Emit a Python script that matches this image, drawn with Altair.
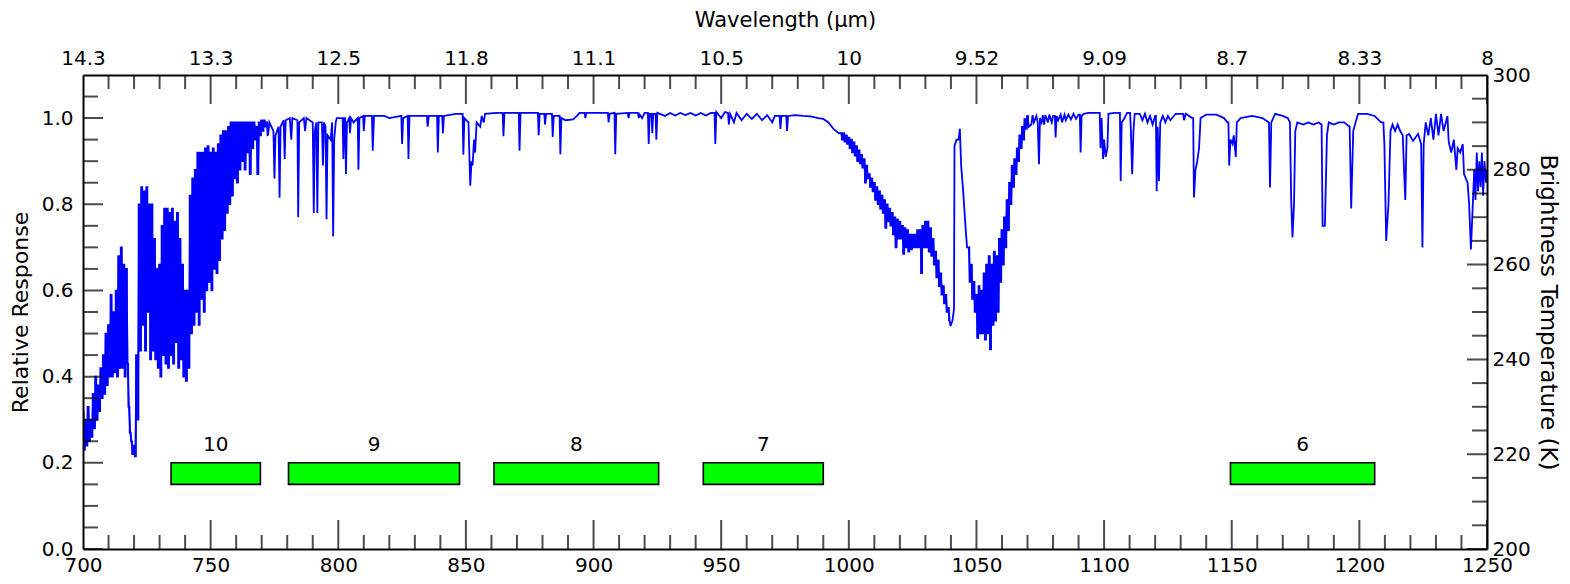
import altair as alt
import pandas as pd

FONT = "DejaVu Sans"

# ---------------- spectrum readings (wavenumber cm-1 -> relative response) ----------------
# dense band 700-772: top value read at nu, bottom value read at nu+0.5
dense1_nu = list(range(700, 773))
dense1_top = [.32, .30, .33, .30, .36, .40, .38, .42, .45, .50,
              .52, .59, .55, .60, .68, .70, .66, .65, .33, .25,
              .24, .45, .80, .84, .83, .84, .80, .80, .72, .65,
              .66, .75, .79, .79, .78, .79, .76, .78, .72, .66,
              .60, .60, .82, .86, .88, .92, .92, .92, .93, .935,
              .92, .93, .92, .94, .96, .97, .97, .98, .99, .99,
              .99, .99, .99, .99, .99, .99, .99, .99, .98, .99,
              .995, .995, .99]
dense1_bot = [.23, .24, .25, .26, .28, .30, .32, .35, .36, .38,
              .40, .40, .41, .40, .42, .42, .40, .43, .27, .22,
              .215, .30, .46, .52, .46, .55, .44, .46, .44, .42,
              .40, .45, .43, .42, .45, .43, .48, .42, .44, .40,
              .39, .42, .50, .52, .55, .52, .58, .55, .60, .62,
              .60, .65, .64, .67, .72, .74, .78, .80, .82, .86,
              .85, .88, .90, .88, .92, .87, .93, .95, .87, .96,
              .97, .98, .96]

# sparse part 773-996 with individual absorption lines
sparse1_nu = [773, 774.6, 775, 775.4, 776.6, 777, 777.4, 778.6, 779, 779.4,
              781, 781.6, 782, 784, 784.3, 784.7, 786.5, 787, 787.5, 790,
              790.4, 790.8, 791.4, 791.8, 792.2, 793.6, 794, 794.4, 795, 795.4,
              795.8, 797, 797.6, 798, 798.4, 799, 799.4,
              800.5, 802, 802.4, 803, 803.4, 804.6, 805, 806, 807.9, 808.3,
              810, 810.4, 813.5, 814, 818, 820, 825, 825.4, 827.5, 827.9,
              832, 835, 835.5, 839, 839.4, 841, 841.4, 846, 849, 849.4,
              851, 851.7, 852.2, 852.6, 853.2, 853.6, 854.2, 855.6, 856.2, 857,
              857.5, 862, 864.7, 865.1, 871, 871.4, 876, 878.5, 878.9, 881,
              881.4, 884, 884.4, 887, 887.4, 889, 892, 893.5, 894.5,
              896.8, 897.2, 904, 905.9, 906.3, 908.5, 908.9, 913.7, 914.1, 917.7,
              918.1, 919, 920, 921.6, 922, 923, 923.4, 924.6, 925, 928,
              930, 932, 934, 936, 938, 940, 942, 944, 946, 947.7,
              948.1, 950, 951.5, 953, 953.5, 955, 956, 958, 960, 962,
              964, 966, 968, 970, 971, 973.2, 973.6, 975.8, 976.2, 979,
              982, 985, 988, 990, 992, 994, 996]
sparse1_r = [.99, .97, .86, .96, .98, .815, .98, .995, .905, .995,
             1.0, .95, 1.0, .995, .77, .99, 1.0, .97, 1.0, .99,
             .78, .97, .99, .78, .99, .99, .89, .99, .98, .765,
             .96, .95, .99, .725, .95, .99, 1.0,
             1.0, .905, 1.0, .87, .99, .965, 1.0, .99, .88, 1.0,
             .97, 1.005, .924, 1.005, 1.005, 1.0, .94, 1.0, .905, 1.005,
             1.005, .98, 1.005, .92, 1.005, .965, 1.005, 1.01, .915, 1.0,
             .99, .843, .90, .89, .95, .92, .99, .98, 1.005, .99,
             1.01, 1.012, .958, 1.012, .924, 1.012, 1.012, .96, 1.01, .985,
             1.01, .956, 1.005, .916, 1.0, .995, .997, 1.005, 1.012,
             1.0, 1.012, 1.012, .99, 1.01, .916, 1.01, 1.0, 1.012, 1.0,
             1.008, 1.0, 1.012, .94, 1.01, .965, 1.01, .95, 1.012, 1.005,
             1.012, 1.006, 1.012, 1.007, 1.012, 1.006, 1.012, 1.006, 1.012, .94,
             1.014, 1.0, 1.014, .985, 1.01, .99, 1.012, .995, 1.01, .998,
             1.01, .995, 1.007, .99, 1.005, .975, 1.005, .97, 1.005, 1.007,
             1.005, 1.004, 1.0, .998, .99, .975, .965]

# continuum readings right beside the narrow lines
anchor_nu = [801.7, 802.7, 804.3, 807.6, 809.7, 813.2, 824.7, 827.2, 834.7, 838.7,
             840.7, 848.7, 864.4, 870.7, 878.2, 880.7, 883.7, 886.7, 896.5, 905.6,
             908.2, 913.4, 917.4, 921.3, 922.7, 924.3, 947.4, 952.7, 972.9, 975.5,
             1080.7, 1090.5, 1098.3, 1106.2, 1110.2, 1120.3, 1131.0, 1134.9, 1148.7, 1209.4]
anchor_r = [1.0, 1.0, 1.0, 1.0, 1.005, 1.005, 1.005, 1.005, 1.005, 1.005,
            1.005, 1.01, 1.012, 1.012, 1.012, 1.01, 1.01, 1.005, 1.012, 1.012,
            1.012, 1.012, 1.012, 1.012, 1.01, 1.01, 1.012, 1.012, 1.005, 1.005,
            1.005, 1.008, 1.012, 1.012, 1.012, 1.005, 1.01, 1.0, .99, .99]

# dense decline 997-1039 (top at nu, bottom at nu+0.5)
dense2_nu = list(range(997, 1040))
dense2_top = [.965, .965, .96, .955, .95, .944, .935, .925, .915, .905,
              .89, .87, .86, .85, .84, .83, .82, .81, .80, .79,
              .78, .77, .765, .76, .75, .745, .74, .73, .73, .73,
              .74, .74, .75, .76, .76, .745, .72, .69, .67, .64,
              .61, .59, .56]
dense2_bot = [.95, .945, .94, .93, .92, .913, .90, .895, .885, .85,
              .86, .84, .83, .81, .80, .79, .78, .745, .76, .75,
              .73, .70, .72, .72, .685, .70, .69, .695, .70, .70,
              .70, .64, .70, .70, .69, .68, .66, .63, .61, .59,
              .57, .55, .53]

# narrow spike near 1041
spike_nu = [1039.8, 1040.6, 1041.2, 1041.4, 1042.2, 1043, 1043.5, 1044, 1044.8, 1045.7, 1046.3]
spike_r = [.517, .53, .556, .936, .95, .95, .975, .89, .83, .75, .70]

# dense trough 1047-1070 (top at nu, bottom at nu+0.5)
dense3_nu = list(range(1047, 1071))
dense3_top = [.70, .66, .62, .59, .61, .60, .64, .66, .68, .66,
              .69, .68, .72, .74, .77, .81, .85, .89, .905, .93,
              .96, .98, .998, 1.005]
dense3_bot = [.62, .58, .55, .49, .50, .50, .486, .50, .463, .52,
              .53, .55, .62, .66, .70, .74, .80, .84, .87, .90,
              .93, .95, .975, .98]

# sparse part 1071-1250
sparse2_nu = [1071.5, 1072, 1072.5, 1073.5, 1074, 1074.5, 1074.9, 1075.5, 1076, 1076.5,
              1077, 1078, 1078.5, 1079.5, 1080, 1081, 1081.4, 1082, 1083, 1083.5,
              1084.5, 1085, 1086, 1087, 1088, 1089, 1090, 1090.8, 1091.2, 1092,
              1094, 1098.6, 1099, 1099.6, 1100, 1100.6, 1101.3, 1101.7, 1104, 1106.5,
              1106.9, 1108, 1109, 1110.5, 1111, 1111.5, 1112, 1114, 1115, 1116,
              1117, 1118, 1119, 1120, 1120.6, 1121, 1121.5, 1122, 1123, 1124,
              1125, 1126, 1128, 1131.3, 1132, 1134.5, 1135.2, 1135.8, 1136.5, 1137.2,
              1137.8, 1140, 1144, 1147, 1148.3, 1149, 1149.5, 1150.3, 1150.8, 1151.6,
              1152, 1153.5, 1158, 1162, 1164.6, 1165, 1165.5, 1167, 1170, 1172,
              1172.8, 1173.3, 1173.8, 1174.4, 1174.9, 1175.7, 1178, 1180, 1182, 1184,
              1185.2, 1185.6, 1186.5, 1187.3, 1188, 1190, 1192, 1194, 1196.2, 1196.8,
              1197.6, 1198.5, 1199.5, 1203, 1206, 1208.5, 1209.8, 1210.5, 1211.4, 1212.2,
              1213, 1214, 1215, 1216, 1217, 1217.5, 1218, 1218.5, 1219.5, 1221,
              1223, 1224.2, 1224.7, 1225.2, 1226, 1227, 1228, 1229, 1230, 1231,
              1232, 1233, 1234.5, 1235, 1236, 1237, 1238, 1238.5, 1239.5, 1240.5,
              1241, 1242.4, 1243, 1243.7, 1244.3, 1245, 1245.5, 1246, 1246.5, 1247,
              1247.5, 1248, 1248.5, 1249, 1249.6, 1250]
sparse2_r = [.985, 1.007, .99, 1.005, .99, .893, 1.0, .99, 1.007, .985,
             1.007, .99, 1.008, .99, 1.005, .955, 1.005, .995, 1.008, .99,
             1.008, .995, 1.008, .997, 1.01, .998, 1.008, .92, 1.005, 1.01,
             1.012, .93, 1.0, .905, .95, .91, .93, 1.01, 1.012, .854,
             .99, 1.0, 1.012, .97, .87, .97, 1.01, 1.01, .995, 1.01,
             .99, 1.005, .985, 1.005, .83, .98, .854, .99, 1.005, .99,
             1.005, .995, 1.01, .995, 1.01, 1.0, .816, .88, .90, .93,
             1.0, 1.008, 1.008, 1.0, .99, .89, .95, .94, .96, .91,
             .99, 1.0, 1.005, 1.0, .99, .839, .99, 1.01, 1.005, 1.0,
             .99, .81, .723, .80, .97, .99, .985, .99, .985, .99,
             .985, .75, .75, .96, .99, .985, .99, .99, .98, .79,
             .97, .99, 1.01, 1.01, 1.005, .99, .94, .715, .80, .97,
             .985, .97, .985, .97, .96, .88, .81, .96, .963, .947,
             .963, .94, .70, .94, .99, .96, 1.0, .95, 1.01, .96,
             1.01, .97, 1.005, .945, .92, .95, .88, .93, .92, .94,
             .87, .85, .80, .695, .78, .88, .81, .92, .83, .90,
             .84, .92, .82, .90, .85, .88]

# ---------------- channel bands ----------------
ch_names = ["10", "9", "8", "7", "6"]
ch_lo = [734.5, 780.5, 861, 943, 1149.5]
ch_hi = [769.5, 847.5, 925.5, 990, 1206]
band_bottom = 0.15
band_top = 0.2

# ---------------- axes ----------------
x_major = [700, 750, 800, 850, 900, 950, 1000, 1050, 1100, 1150, 1200, 1250]
wl_labels = ["14.3", "13.3", "12.5", "11.8", "11.1", "10.5", "10", "9.52", "9.09", "8.7", "8.33", "8"]
x_minor = [v for v in range(700, 1251, 10) if v % 50 != 0]
left_major = [0.0, 0.2, 0.4, 0.6, 0.8, 1.0]
left_minor = [0.05, 0.1, 0.15, 0.25, 0.3, 0.35, 0.45, 0.5, 0.55, 0.65, 0.7, 0.75, 0.85, 0.9, 0.95, 1.05]
right_major = [200, 220, 240, 260, 280, 300]
right_minor = [v for v in range(205, 300, 5) if v % 20 != 0]
x_dom = [700, 1250]
r_dom = [0, 1.1]
t_dom = [200, 300]

# ---------------- build tables ----------------
dn, dr, dseg = [], [], []
for k, (seg_nu, seg_top, seg_bot) in enumerate([(dense1_nu, dense1_top, dense1_bot),
                                                 (dense2_nu, dense2_top, dense2_bot),
                                                 (dense3_nu, dense3_top, dense3_bot)]):
    for n, t, b in zip(seg_nu, seg_top, seg_bot):
        dn += [n, n + 0.5]
        dr += [t, b]
        dseg += [k, k]
all_nu = dn + sparse1_nu + anchor_nu + spike_nu + sparse2_nu
all_r = dr + sparse1_r + anchor_r + spike_r + sparse2_r
spec = pd.DataFrame({"nu": all_nu, "r": all_r}).sort_values("nu").reset_index(drop=True)
spec["i"] = range(len(spec))
dense = pd.DataFrame({"nu": dn, "r": dr, "seg": dseg})

bands = pd.DataFrame({"ch": ch_names, "lo": ch_lo, "hi": ch_hi,
                      "ylo": [band_bottom] * 5, "yhi": [band_top] * 5})

xs = alt.Scale(domain=x_dom, nice=False, zero=False)
ys = alt.Scale(domain=r_dom, nice=False, zero=False)
ts = alt.Scale(domain=t_dom, nice=False, zero=False)

label_expr = " : ".join(f"datum.value == {v} ? '{l}'" for v, l in zip(x_major, wl_labels)) + " : ''"

bottom_axis = alt.Axis(orient="bottom", values=x_major, format="d", labelPadding=6,
                       title=None, labelFlush=False, labelOverlap=False, zindex=1)
left_axis = alt.Axis(orient="left", values=left_major, format=".1f", labelPadding=10,
                     title="Relative Response", titleX=-63, titleY=237, titleAngle=270,
                     titleFontSize=22,
                     titleBaseline="middle", titleAlign="center",
                     labelFlush=False, labelOverlap=False, zindex=1)
top_axis = alt.Axis(orient="top", values=x_major, labelExpr=label_expr, labelPadding=7,
                    title="Wavelength (µm)", titleX=702, titleY=-55, titleBaseline="middle",
                    titleFontSize=21,
                    titleAlign="center", labelFlush=False, labelOverlap=False, zindex=1)
right_axis = alt.Axis(orient="right", values=right_major, format="d", labelPadding=5,
                      title="Brightness Temperature (K)", titleX=60, titleY=237, titleAngle=90,
                      titleFontSize=23,
                      titleBaseline="middle", titleAlign="center",
                      labelFlush=False, labelOverlap=False, zindex=1)

line = alt.Chart(spec).mark_line(color="#0000ff", strokeWidth=1.8, clip=True).encode(
    x=alt.X("nu:Q", scale=xs, axis=bottom_axis),
    y=alt.Y("r:Q", scale=ys, axis=left_axis),
    order="i:Q",
)

dense_line = alt.Chart(dense).mark_line(color="#0000ff", strokeWidth=1.6, clip=True,
                                        interpolate="step").encode(
    x=alt.X("nu:Q", scale=xs, axis=None),
    y=alt.Y("r:Q", scale=ys, axis=None),
    detail="seg:N",
)

rects = alt.Chart(bands).mark_rect(fill="#00ff00", stroke="black", strokeWidth=1.6).encode(
    x=alt.X("lo:Q", scale=xs, axis=None), x2="hi:Q",
    y=alt.Y("ylo:Q", scale=ys, axis=None), y2="yhi:Q",
)

rect_text = alt.Chart(bands).transform_calculate(mid="(datum.lo + datum.hi) / 2").mark_text(
    font=FONT, fontSize=20, baseline="alphabetic", dy=-12, color="black").encode(
    x=alt.X("mid:Q", scale=xs, axis=None),
    y=alt.Y("yhi:Q", scale=ys, axis=None),
    text="ch:N",
)


def xticks(vals, edge, length, axis=None):
    return alt.Chart(pd.DataFrame({"v": vals})).mark_tick(
        orient="vertical", color="black", thickness=2, size=2 * length, clip=True).encode(
        x=alt.X("v:Q", scale=xs, axis=axis),
        y=alt.YDatum(edge, scale=ys, axis=None),
    )


def lticks(vals, length):
    return alt.Chart(pd.DataFrame({"v": vals})).mark_tick(
        orient="horizontal", color="black", thickness=2, size=2 * length, clip=True).encode(
        x=alt.XDatum(x_dom[0], scale=xs, axis=None),
        y=alt.Y("v:Q", scale=ys, axis=None),
    )


def rticks(vals, length, axis=None):
    return alt.Chart(pd.DataFrame({"v": vals})).mark_tick(
        orient="horizontal", color="black", thickness=2, size=2 * length, clip=True).encode(
        x=alt.XDatum(x_dom[1], scale=xs, axis=None),
        y=alt.Y("v:Q", scale=ts, axis=axis),
    )


layers = [
    line, dense_line, rects, rect_text,
    xticks(x_major, r_dom[0], 29),
    xticks(x_minor, r_dom[0], 14),
    xticks(x_major, r_dom[1], 29, axis=top_axis),
    xticks(x_minor, r_dom[1], 14),
    lticks(left_major, 20),
    lticks(left_minor, 15),
    rticks(right_major, 20, axis=right_axis),
    rticks(right_minor, 15),
]

chart = alt.layer(*layers).resolve_scale(x="independent", y="independent").properties(
    width=1404, height=474,
    autosize=alt.AutoSizeParams(type="none"),
    padding={"left": 75, "top": 67, "right": 74, "bottom": 27},
    background="white",
).configure_view(stroke=None).configure_axis(
    labelFont=FONT, titleFont=FONT, labelFontSize=20, titleFontSize=20,
    labelColor="black", titleColor="black", titleFontWeight="normal",
    domainColor="black", domainWidth=2, grid=False, ticks=False, tickSize=0,
)

chart.save("out.html", embed_options={"renderer": "svg", "actions": False})
